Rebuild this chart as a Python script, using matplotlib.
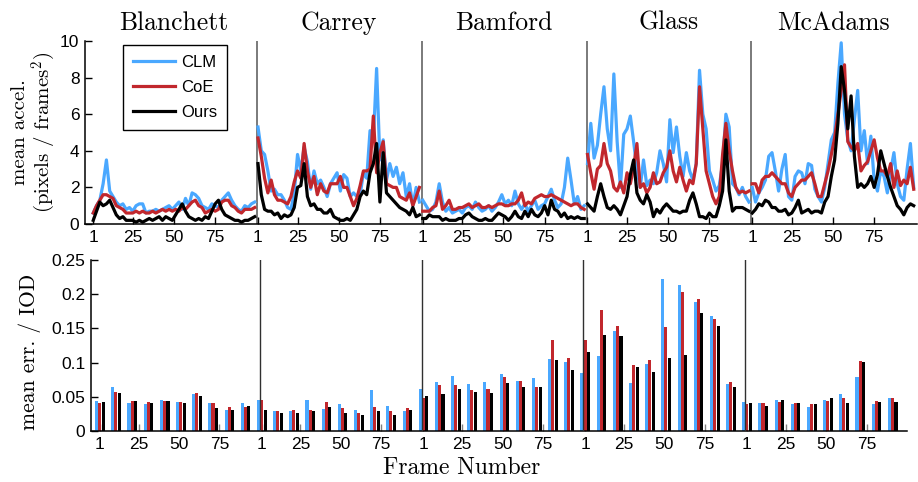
import numpy as np
import matplotlib
matplotlib.use("Agg")
import matplotlib.pyplot as plt

# ─── DATA ────────────────────────────────────────────────────────────────────
SUBJECTS = ["Blanchett", "Carrey", "Bamford", "Glass", "McAdams"]
SERIES   = ["CLM", "CoE", "Ours"]
SEG_LEN  = 100                        # frames per video segment
X_TICKS  = [1, 25, 50, 75]

# mean acceleration sampled at odd frames 1, 3, ..., 99
ACCEL_FRAMES = list(range(1, 100, 2))

clm_blanchett  = [0.6, 1.0, 1.3, 2.2, 3.5, 1.8, 1.5, 1.2, 1.0, 1.1, 0.8, 0.9, 0.7, 1.0, 1.1, 1.1, 0.6, 0.7, 0.7, 0.8,
                  0.7, 0.8, 0.9, 1.0, 0.8, 1.0, 1.2, 0.8, 1.4, 1.0, 1.7, 1.6, 1.4, 1.0, 0.9, 0.8, 1.1, 1.0, 0.9, 1.3,
                  1.5, 1.7, 1.3, 1.0, 0.8, 0.7, 1.0, 0.9, 1.1, 1.2]
coe_blanchett  = [0.6, 1.0, 1.3, 1.6, 1.6, 1.5, 1.4, 1.0, 0.9, 0.8, 0.6, 0.6, 0.6, 0.7, 0.6, 0.7, 0.6, 0.6, 0.7, 0.6,
                  0.7, 0.8, 0.7, 0.8, 0.7, 0.8, 0.7, 0.9, 0.8, 1.0, 1.2, 1.3, 1.0, 0.9, 0.6, 0.7, 0.8, 0.7, 0.8, 1.2,
                  1.3, 1.3, 1.0, 0.9, 0.7, 0.6, 0.8, 0.8, 0.8, 0.9]
ours_blanchett = [0.2, 0.7, 1.2, 1.0, 1.1, 1.3, 0.9, 0.5, 0.3, 0.4, 0.2, 0.2, 0.2, 0.1, 0.2, 0.1, 0.2, 0.3, 0.2, 0.3,
                  0.4, 0.2, 0.4, 0.3, 0.2, 0.5, 0.8, 1.1, 0.7, 0.4, 0.3, 0.2, 0.3, 0.2, 0.4, 0.3, 0.7, 1.1, 1.3, 0.8,
                  0.5, 0.4, 0.3, 0.2, 0.2, 0.1, 0.2, 0.2, 0.3, 0.4]

clm_carrey  = [5.3, 4.0, 3.8, 2.9, 1.8, 1.9, 1.6, 1.6, 1.3, 0.9, 0.8, 1.7, 3.8, 2.9, 4.2, 3.4, 1.9, 2.9, 2.2, 2.4,
               2.0, 1.5, 2.2, 2.5, 2.8, 1.8, 2.7, 2.5, 1.5, 1.7, 1.5, 1.6, 2.8, 2.5, 5.1, 4.6, 8.5, 3.5, 4.6, 2.4,
               3.3, 2.6, 3.1, 2.2, 2.8, 1.5, 2.2, 1.0, 2.0, 1.2]
coe_carrey  = [4.7, 3.7, 2.5, 1.7, 2.4, 1.6, 1.3, 1.3, 1.2, 1.1, 1.5, 2.3, 2.9, 2.5, 4.4, 2.9, 2.0, 2.6, 1.6, 2.2,
               1.8, 1.7, 2.2, 2.2, 2.2, 2.6, 2.0, 2.0, 1.5, 1.0, 1.4, 2.1, 2.9, 2.9, 3.0, 5.9, 2.8, 3.9, 4.5, 2.2,
               2.1, 2.0, 2.0, 1.5, 1.4, 1.3, 1.7, 1.0, 1.5, 2.0]
ours_carrey = [3.3, 1.6, 0.8, 0.7, 0.7, 0.5, 0.6, 0.3, 0.5, 0.4, 0.5, 0.9, 2.0, 2.1, 3.3, 1.5, 1.0, 1.1, 0.8, 0.8,
               0.6, 0.6, 0.8, 0.4, 0.3, 0.2, 0.2, 0.3, 0.2, 0.5, 0.8, 1.5, 1.8, 1.6, 2.8, 3.3, 4.4, 1.2, 3.9, 1.7,
               1.5, 1.3, 1.1, 0.9, 0.8, 0.7, 0.5, 0.9, 0.4, 0.5]

clm_bamford  = [1.3, 1.0, 0.7, 0.8, 1.2, 2.2, 1.2, 0.7, 0.9, 0.6, 0.7, 0.8, 0.6, 0.9, 1.0, 0.8, 1.2, 0.9, 0.7, 0.8,
                1.0, 0.7, 0.9, 1.2, 1.6, 1.1, 1.3, 1.0, 1.8, 1.1, 0.8, 1.1, 0.7, 1.0, 1.3, 0.8, 1.0, 1.1, 1.5, 1.9,
                1.3, 0.9, 1.1, 2.0, 3.6, 2.4, 1.1, 1.5, 0.8, 1.0]
coe_bamford  = [0.7, 0.7, 0.7, 0.9, 1.0, 1.8, 0.8, 1.0, 1.3, 0.8, 0.8, 0.9, 0.9, 1.0, 1.1, 0.9, 1.0, 1.1, 0.9, 0.9,
                1.0, 0.9, 1.0, 1.1, 1.1, 1.0, 1.0, 1.1, 1.1, 1.3, 1.7, 1.0, 1.2, 1.1, 1.4, 1.5, 1.6, 1.5, 1.5, 1.6,
                1.5, 1.4, 1.3, 1.2, 1.1, 1.0, 1.1, 1.1, 0.9, 0.8]
ours_bamford = [0.3, 0.3, 0.5, 0.4, 0.4, 0.4, 0.2, 0.3, 0.2, 0.2, 0.2, 0.3, 0.3, 0.5, 0.6, 0.4, 0.3, 0.2, 0.2, 0.3,
                0.2, 0.2, 0.4, 0.6, 0.5, 0.4, 0.2, 0.4, 0.7, 0.4, 0.3, 0.7, 0.4, 0.8, 0.5, 0.4, 0.6, 1.0, 0.5, 1.3,
                0.8, 0.7, 0.4, 0.6, 0.3, 0.4, 0.3, 0.4, 0.3, 0.3]

clm_glass  = [3.3, 5.5, 3.6, 4.3, 6.0, 7.5, 5.2, 4.0, 8.2, 4.5, 2.0, 4.9, 5.2, 5.9, 4.5, 3.0, 2.0, 3.5, 2.1, 2.4,
              2.2, 2.8, 4.0, 3.3, 2.3, 5.7, 3.9, 5.3, 3.7, 2.6, 3.9, 2.9, 2.4, 3.3, 8.4, 6.0, 5.2, 2.9, 2.4, 1.8,
              2.1, 3.3, 6.0, 5.3, 2.2, 2.0, 1.6, 2.0, 1.5, 1.2]
coe_glass  = [3.8, 2.8, 1.9, 3.0, 3.2, 4.4, 3.3, 2.9, 2.0, 1.8, 2.3, 1.7, 2.8, 2.2, 3.1, 4.4, 2.0, 2.2, 1.7, 2.0,
              2.8, 2.2, 2.3, 2.8, 3.1, 4.0, 2.9, 2.3, 3.1, 2.4, 1.8, 2.4, 2.2, 3.3, 7.5, 5.2, 2.9, 2.2, 1.5, 1.1,
              1.5, 3.8, 5.5, 4.0, 2.9, 2.0, 1.7, 1.8, 1.7, 1.8]
ours_glass = [1.1, 0.9, 0.7, 1.5, 2.2, 1.5, 0.9, 0.8, 1.0, 0.8, 0.5, 1.0, 1.5, 2.7, 3.5, 1.7, 1.3, 1.1, 1.6, 1.2,
              0.4, 0.8, 0.6, 0.9, 1.1, 0.9, 0.7, 0.7, 0.6, 0.7, 0.7, 1.3, 1.7, 1.1, 0.4, 0.4, 0.3, 0.6, 0.4, 0.4,
              1.0, 1.8, 4.6, 1.8, 0.7, 0.9, 0.9, 0.9, 0.8, 0.7]

clm_mcadams  = [2.0, 1.2, 1.7, 2.0, 2.4, 3.7, 3.9, 2.9, 1.8, 3.0, 3.8, 1.5, 1.3, 2.6, 2.9, 2.8, 2.2, 3.3, 3.2, 1.9,
                1.5, 1.2, 2.0, 3.3, 4.6, 5.0, 7.7, 9.9, 6.0, 4.6, 4.0, 5.7, 7.3, 4.0, 5.1, 3.3, 4.8, 2.4, 1.8, 2.9,
                2.6, 1.7, 2.9, 3.9, 2.2, 1.5, 1.3, 3.0, 4.4, 2.0]
coe_mcadams  = [2.2, 2.2, 1.7, 2.4, 2.6, 2.6, 2.8, 2.6, 2.4, 2.2, 2.2, 1.7, 1.5, 2.0, 2.2, 2.4, 2.4, 2.6, 2.8, 2.2,
                1.5, 1.5, 2.2, 2.9, 3.8, 4.7, 6.0, 7.3, 8.7, 4.5, 4.2, 4.0, 4.4, 2.9, 3.2, 3.4, 4.0, 4.6, 3.6, 2.9,
                2.9, 2.6, 3.3, 2.0, 2.9, 2.1, 2.4, 2.2, 3.1, 1.9]
ours_mcadams = [0.6, 0.8, 1.1, 1.0, 1.3, 1.2, 0.9, 0.9, 0.7, 0.7, 0.8, 0.5, 0.6, 0.9, 1.3, 0.6, 0.7, 0.8, 0.6, 0.7,
                0.7, 0.6, 1.2, 1.5, 2.6, 3.5, 5.5, 8.6, 7.3, 5.2, 7.0, 3.7, 2.0, 2.2, 2.0, 2.2, 2.6, 2.0, 2.7, 4.0,
                3.3, 2.6, 2.0, 1.5, 1.0, 0.8, 0.5, 0.9, 1.1, 1.0]

# mean error / IOD, one bar group every 10 frames
ERR_FRAMES = list(range(1, 100, 10))

err_clm_blanchett  = [0.0435, 0.065, 0.0405, 0.039, 0.046, 0.042, 0.054, 0.0405, 0.030, 0.0405]
err_coe_blanchett  = [0.0405, 0.057, 0.0435, 0.042, 0.0435, 0.042, 0.055, 0.0405, 0.035, 0.035]
err_ours_blanchett = [0.042, 0.055, 0.0435, 0.0405, 0.0435, 0.0405, 0.051, 0.033, 0.030, 0.036]

err_clm_carrey  = [0.045, 0.029, 0.029, 0.045, 0.032, 0.039, 0.030, 0.060, 0.036, 0.029]
err_coe_carrey  = [0.045, 0.029, 0.030, 0.030, 0.042, 0.033, 0.027, 0.035, 0.029, 0.033]
err_ours_carrey = [0.030, 0.027, 0.027, 0.029, 0.035, 0.027, 0.023, 0.029, 0.023, 0.030]

err_clm_bamford  = [0.061, 0.071, 0.080, 0.068, 0.071, 0.083, 0.073, 0.077, 0.105, 0.1005]
err_coe_bamford  = [0.048, 0.067, 0.067, 0.060, 0.061, 0.079, 0.073, 0.064, 0.133, 0.106]
err_ours_bamford = [0.051, 0.054, 0.061, 0.057, 0.055, 0.070, 0.065, 0.065, 0.1035, 0.089]

err_clm_glass  = [0.0845, 0.109, 0.146, 0.070, 0.098, 0.222, 0.213, 0.188, 0.168, 0.068]
err_coe_glass  = [0.133, 0.177, 0.153, 0.096, 0.1035, 0.152, 0.203, 0.193, 0.164, 0.071]
err_ours_glass = [0.115, 0.140, 0.139, 0.093, 0.086, 0.1065, 0.111, 0.172, 0.153, 0.064]

err_clm_mcadams  = [0.042, 0.0405, 0.046, 0.039, 0.035, 0.045, 0.054, 0.079, 0.039, 0.048]
err_coe_mcadams  = [0.039, 0.0405, 0.042, 0.0405, 0.039, 0.0435, 0.048, 0.102, 0.0435, 0.048]
err_ours_mcadams = [0.0405, 0.036, 0.045, 0.0405, 0.039, 0.048, 0.0405, 0.1005, 0.042, 0.042]

ACCEL = [
    (clm_blanchett, coe_blanchett, ours_blanchett),
    (clm_carrey, coe_carrey, ours_carrey),
    (clm_bamford, coe_bamford, ours_bamford),
    (clm_glass, coe_glass, ours_glass),
    (clm_mcadams, coe_mcadams, ours_mcadams),
]
ERR = [
    (err_clm_blanchett, err_coe_blanchett, err_ours_blanchett),
    (err_clm_carrey, err_coe_carrey, err_ours_carrey),
    (err_clm_bamford, err_coe_bamford, err_ours_bamford),
    (err_clm_glass, err_coe_glass, err_ours_glass),
    (err_clm_mcadams, err_coe_mcadams, err_ours_mcadams),
]

# ─── STYLE ───────────────────────────────────────────────────────────────────
COLORS    = ["#4aa8ff", "#c1272d", "#000000"]
SERIF     = "cmr10"
SANS      = "Liberation Sans"
BAR_W     = 1.9
BAR_OFFS  = [-1.9, 0.0, 2.2]
SEP_TOP   = "#707070"
SEP_BOT   = "#303030"
# ─────────────────────────────────────────────────────────────────────────────

plt.rcParams["mathtext.fontset"] = "cm"
plt.rcParams["font.family"] = SANS
plt.rcParams["axes.linewidth"] = 1.1

W, H = 918, 482
fig = plt.figure(figsize=(W / 100, H / 100), dpi=100)
ax1 = fig.add_axes([85 / W, 1 - 224 / H, 832 / W, 183 / H])
ax2 = fig.add_axes([91 / W, 1 - 431 / H, 816 / W, 171 / H])

tick_pos, tick_lab = [], []
for i in range(len(SUBJECTS)):
    off = SEG_LEN * i
    tick_pos += [off + t for t in X_TICKS]
    tick_lab += [str(t) for t in X_TICKS]

# ── top: acceleration lines
for i, subj in enumerate(SUBJECTS):
    off = SEG_LEN * i
    x = np.array(ACCEL_FRAMES) + off
    for k, name in enumerate(SERIES):
        ax1.plot(x, ACCEL[i][k], color=COLORS[k], lw=2.3,
                 solid_joinstyle="round", label=name if i == 0 else None,
                 zorder=2 + k)
    if i > 0:
        ax1.plot([off + 0.5, off + 0.5], [0, 10], color=SEP_TOP, lw=1.3, zorder=1)
    ax1.text(off + 50, 1.035, subj, transform=ax1.get_xaxis_transform(),
             ha="center", va="bottom", fontsize=18.5, family=SERIF)

ax1.set_xlim(-4, 501)
ax1.set_ylim(0, 10)
ax1.set_yticks([0, 2, 4, 6, 8, 10])
ax1.set_xticks(tick_pos)
ax1.set_xticklabels(tick_lab)

leg = ax1.legend(loc="upper left", bbox_to_anchor=(0.046, 0.978),
                 borderaxespad=0, fancybox=False, edgecolor="black",
                 framealpha=1, fontsize=12, handlelength=2.5,
                 handletextpad=0.35, labelspacing=0.6, borderpad=0.6)
leg.get_frame().set_linewidth(1.0)

# ── bottom: error bars
for i in range(len(SUBJECTS)):
    off = SEG_LEN * i
    for k in range(len(SERIES)):
        ax2.bar(np.array(ERR_FRAMES) + off + BAR_OFFS[k], ERR[i][k],
                width=BAR_W, color=COLORS[k], linewidth=0, zorder=2)
    if i > 0:
        ax2.plot([off, off], [0, 0.25], color=SEP_BOT, lw=1.0, zorder=3)

ax2.set_xlim(-4.4, 500)
ax2.set_ylim(0, 0.25)
ax2.set_yticks([0, 0.05, 0.1, 0.15, 0.2, 0.25])
ax2.set_yticklabels(["0", "0.05", "0.1", "0.15", "0.2", "0.25"])
ax2.set_xticks(tick_pos)
ax2.set_xticklabels(tick_lab)

for ax in (ax1, ax2):
    for s in ("top", "right"):
        ax.spines[s].set_visible(False)
    ax.tick_params(direction="in", length=5, width=1, labelsize=12.5, pad=4)
ax2.tick_params(axis="x", color="#808080")

fig.text(20 / W, 1 - 132 / H, "mean accel.", rotation=90, ha="center",
         va="center", fontsize=15, family=SERIF)
fig.text(44 / W, 1 - 132 / H, "(pixels / frames$^2$)", rotation=90,
         ha="center", va="center", fontsize=15, family=SERIF)
fig.text(30 / W, 1 - 352 / H, "mean err. / IOD", rotation=90, ha="center",
         va="center", fontsize=15.5, family=SERIF)
fig.text(462 / W, 1 - 468 / H, "Frame Number", ha="center", va="center",
         fontsize=17, family=SERIF)

fig.savefig("out.png", dpi=100)
